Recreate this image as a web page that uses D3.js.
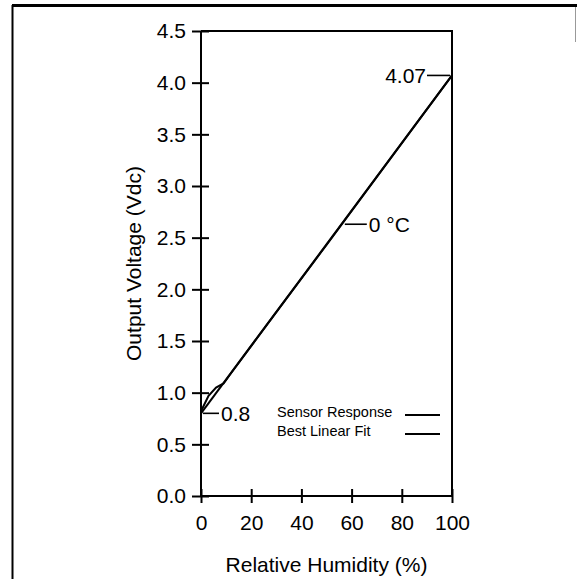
<!DOCTYPE html>
<html>
<head>
<meta charset="utf-8">
<script src="https://cdn.jsdelivr.net/npm/d3@7"></script>
<style>
  html, body { margin: 0; padding: 0; background: #fff; }
  svg { display: block; font-family: "Liberation Sans", Arial, sans-serif; }
</style>
</head>
<body>
<svg id="chart" width="577" height="579"></svg>
<script>
// Output voltage vs. relative humidity at 0 °C
const xTicks = [0, 20, 40, 60, 80, 100];
const yTicks = [0.0, 0.5, 1.0, 1.5, 2.0, 2.5, 3.0, 3.5, 4.0, 4.5];

// Sensor response (%RH, Vdc)
const sensorRH = [0, 3, 6, 9, 12, 30, 50, 75, 100];
const sensorV  = [0.82, 0.97, 1.05, 1.09, 1.19, 1.78, 2.43, 3.25, 4.07];

// Best linear fit endpoints (%RH, Vdc)
const fitRH = [0, 100];
const fitV  = [0.8, 4.07];

// Callout labels
const calloutZeroOffset = { rh: 0, v: 0.8, text: "0.8" };
const calloutFullScale  = { rh: 100, v: 4.07, text: "4.07" };
const calloutTemp       = { rh: 56.5, v: 2.63, text: "0 °C" };

const legendItems = ["Sensor Response", "Best Linear Fit"];

const svg = d3.select("#chart");

// page frame
svg.append("line").attr("x1", 12).attr("x2", 577).attr("y1", 5.5).attr("y2", 5.5)
  .attr("stroke", "#000").attr("stroke-width", 3);
svg.append("line").attr("x1", 12.5).attr("x2", 12.5).attr("y1", 5).attr("y2", 579)
  .attr("stroke", "#000").attr("stroke-width", 2);
svg.append("line").attr("x1", 575.5).attr("x2", 575.5).attr("y1", 7).attr("y2", 42)
  .attr("stroke", "#999").attr("stroke-width", 1);

const x = d3.scaleLinear().domain([0, 100]).range([201, 452]);
const y = d3.scaleLinear().domain([0, 4.5]).range([496, 31]);

// plot box top and right edges
svg.append("path")
  .attr("d", `M${x(0)},${y(4.5)}H${x(100)}V${y(0)}`)
  .attr("fill", "none").attr("stroke", "#000").attr("stroke-width", 2);

// y axis with ticks crossing the axis line
const gy = svg.append("g")
  .attr("transform", `translate(${x(0)},0)`)
  .call(d3.axisLeft(y).tickValues(yTicks).tickFormat(d3.format(".1f"))
    .tickSize(9).tickPadding(6));
gy.selectAll(".tick line").attr("x1", 8);

// x axis with ticks crossing the axis line
const gx = svg.append("g")
  .attr("transform", `translate(0,${y(0)})`)
  .call(d3.axisBottom(x).tickValues(xTicks).tickFormat(d3.format("d"))
    .tickSize(7).tickPadding(12));
gx.selectAll(".tick line").attr("y1", -7);

[gx, gy].forEach(g => {
  g.select(".domain").attr("stroke", "#000").attr("stroke-width", 2);
  g.selectAll(".tick line").attr("stroke", "#000").attr("stroke-width", 2);
  g.selectAll(".tick text").attr("font-size", 21).attr("fill", "#000")
    .attr("font-family", "'Liberation Sans', Arial, sans-serif");
});
gy.select(".domain").attr("d", `M0,${y(4.5)}V${y(0)}`);
gx.select(".domain").attr("d", `M${x(0)},0H${x(100)}`);

// axis titles
svg.append("text")
  .attr("x", (x(0) + x(100)) / 2).attr("y", 572)
  .attr("text-anchor", "middle").attr("font-size", 21)
  .text("Relative Humidity (%)");
svg.append("text")
  .attr("transform", `translate(141,${(y(0) + y(4.5)) / 2}) rotate(-90)`)
  .attr("text-anchor", "middle").attr("font-size", 21)
  .text("Output Voltage (Vdc)");

// data lines
const line = d3.line().x(d => x(d[0])).y(d => y(d[1]));
svg.append("path")
  .datum(sensorRH.map((r, i) => [r, sensorV[i]]))
  .attr("d", line).attr("fill", "none").attr("stroke", "#000").attr("stroke-width", 2);
svg.append("path")
  .datum(fitRH.map((r, i) => [r, fitV[i]]))
  .attr("d", line).attr("fill", "none").attr("stroke", "#000").attr("stroke-width", 2);

// callouts
function callout(c, dx0, len, anchor) {
  const cx = x(c.rh), cy = y(c.v);
  const x1 = cx + dx0, x2 = cx + dx0 + len;
  svg.append("line").attr("x1", x1).attr("x2", x2).attr("y1", cy).attr("y2", cy)
    .attr("stroke", "#000").attr("stroke-width", 1.6);
  const tx = anchor === "end" ? Math.min(x1, x2) - 1 : Math.max(x1, x2) + 2;
  svg.append("text").attr("x", tx).attr("y", cy).attr("dy", "0.35em")
    .attr("text-anchor", anchor).attr("font-size", 21).text(c.text);
}
callout(calloutZeroOffset, 2, 16, "start");
callout(calloutFullScale, -2, -23, "end");
callout(calloutTemp, 2, 22, "start");

// legend
const legend = svg.append("g");
legendItems.forEach((label, i) => {
  const ly = 412 + i * 19;
  legend.append("text").attr("x", 277).attr("y", ly).attr("dy", "0.35em")
    .attr("font-size", 14.5).text(label);
  legend.append("line").attr("x1", 405).attr("x2", 440)
    .attr("y1", ly + 3).attr("y2", ly + 3)
    .attr("stroke", "#000").attr("stroke-width", 2);
});
</script>
</body>
</html>
